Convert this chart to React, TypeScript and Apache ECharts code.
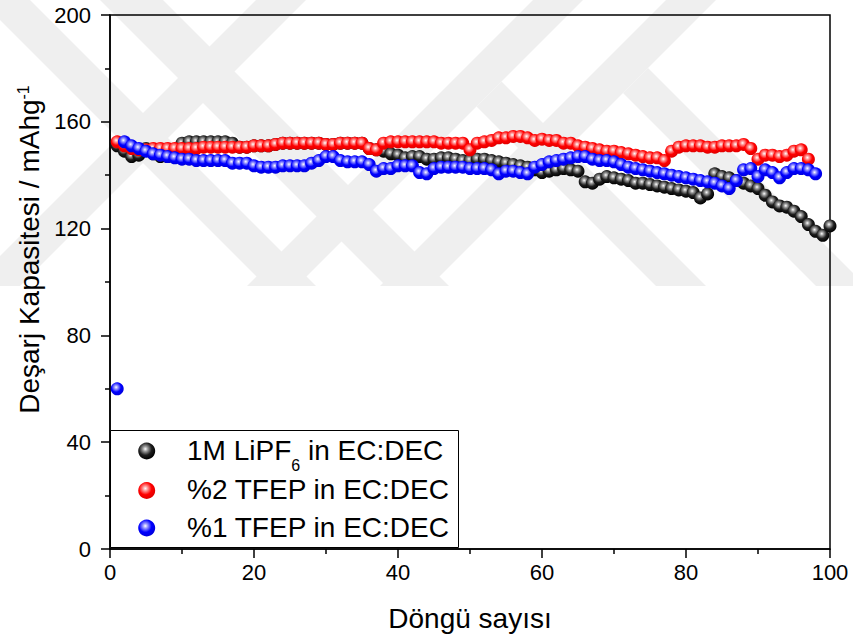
import React, { useEffect, useRef } from "react";
import * as echarts from "echarts";

// ---- Data ----
const blackCapacity: number[] = [
  151, 149, 147, 147.5, 150, 148, 147, 147, 149, 152,
  152.5, 152.5, 152.5, 152.5, 152.5, 152.5, 152, 150.5, 150.5, 151,
  151, 151, 151.5, 152, 152, 152, 152, 152, 152, 151.5,
  151.5, 152, 152, 152, 152, 150, 149.5, 149, 148, 147.5,
  146.5, 147, 147, 146, 146, 146.5, 146.5, 146, 145.5, 145.5,
  146, 146, 145.5, 145, 144.5, 144, 143.5, 143, 142, 141,
  141.5, 142, 142.5, 142, 141.5, 137.5, 137, 138.5, 139.5, 139,
  138.5, 138, 137, 137, 136.5, 136, 135.5, 135, 134.5, 134,
  133.5, 131.5, 133, 140.5, 139.5, 139, 138, 137, 136, 135,
  132.5, 130, 128.5, 128, 126.5, 124.5, 121.5, 119, 117.5, 121,
];

const redCapacity: number[] = [
  152.5, 151, 150, 149.5, 149.5, 150, 150, 150, 150, 150,
  150, 150, 150.5, 150.5, 150.5, 150.5, 150.5, 150.5, 150.5, 151,
  151, 151, 151.5, 152, 152, 152, 152, 152, 152, 151.5,
  151.5, 152, 152, 152, 152, 150, 149.5, 152, 152.5, 152.5,
  152.5, 152.5, 152.5, 152.5, 152.5, 152, 152, 152, 152, 149.5,
  152, 152.5, 153, 154, 154, 154.5, 154.5, 154, 153, 153.5,
  153, 153, 152, 152, 151, 150.5, 150, 149.5, 149, 149,
  148.5, 148, 147.5, 147, 146.5, 146.5, 145.5, 149, 150.5, 151,
  151, 151, 150.5, 150.5, 151, 151, 151, 151.5, 150, 146,
  147.5, 147.5, 147, 147.5, 149, 149.5, 146,
];

const blueCapacity: number[] = [
  60,
  152.5, 151, 150, 149, 148, 147.5, 147, 146.5, 146, 146,
  145.5, 145.5, 145.5, 145.5, 145.5, 144.5, 144.5, 144.5, 143.5, 143,
  143, 143, 143.5, 143.5, 143.5, 143.5, 144.5, 145.5, 147, 147,
  145.5, 145, 145, 145, 144, 141.5, 142.5, 142.5, 143.5, 143.5,
  143.5, 141, 140.5, 142.5, 143, 143, 143, 143, 142.5, 142.5,
  142.5, 142, 140.5, 141.5, 141.5, 141, 140.5, 143, 144, 145,
  145.5, 146, 146.5, 147, 147, 146, 145.5, 145.5, 145, 144,
  143, 142.5, 142, 141.5, 141, 140.5, 140, 139.5, 139, 138.5,
  138, 137.5, 137, 136, 135, 138, 142, 142.5, 139.5, 142,
  141, 139, 141, 142.5, 142.5, 142, 140.5,
];

const seriesNames: string[] = [
  "1M LiPF6 in EC:DEC",
  "%2 TFEP in EC:DEC",
  "%1 TFEP in EC:DEC",
];

// legend label pieces: [before subscript, subscript, after subscript]
const legendParts: string[][] = [
  ["1M LiPF", "6", " in EC:DEC"],
  ["%2 TFEP in EC:DEC", "", ""],
  ["%1 TFEP in EC:DEC", "", ""],
];

const xTicks = { min: 0, max: 100, interval: 20 };
const yTicks = { min: 0, max: 200, interval: 40 };

// ---- styling helpers ----
const FONT = "Arial, 'Liberation Sans', sans-serif";

function sphere(light: string, mid: string, dark: string) {
  return {
    type: "radial",
    x: 0.42,
    y: 0.38,
    r: 0.62,
    colorStops: [
      { offset: 0, color: "#ffffff" },
      { offset: 0.22, color: light },
      { offset: 0.6, color: mid },
      { offset: 1, color: dark },
    ],
  } as any;
}

const sphereColors = [
  sphere("#a0a0a0", "#1e1e1e", "#000000"),
  sphere("#ff9a9a", "#ff0000", "#e00000"),
  sphere("#9a9aff", "#0000ff", "#0000dd"),
];

// decorative watermark bands (light grey)
const watermark: number[][][] = [
  [[256, 0], [306, 0], [20, 286], [-30, 286]],
  [[-20, 0], [30, 0], [316, 286], [266, 286]],
  [[100, 0], [163, 0], [449, 286], [386, 286]],
  [[533, 0], [583, 0], [297, 286], [247, 286]],
  [[666, 0], [716, 0], [430, 286], [380, 286]],
  [[501.5, 81.5], [706, 286], [656, 286], [476.5, 106.5]],
  [[648, 68], [866, 286], [816, 286], [623, 93]],
];

function measure(text: string, size: number): number {
  const ctx = document.createElement("canvas").getContext("2d");
  if (!ctx) return text.length * size * 0.55;
  ctx.font = `${size}px Arial, "Liberation Sans", sans-serif`;
  return ctx.measureText(text).width;
}

function toPairs(values: number[], start: number) {
  return values.map((v, i) => [i + start, v]);
}

function textEl(text: string, x: number, y: number, size: number) {
  return {
    type: "text",
    z: 101,
    silent: true,
    x,
    y,
    style: {
      text,
      fontFamily: FONT,
      fontSize: size,
      fill: "#000",
      align: "left",
      verticalAlign: "middle",
      textAlign: "left",
      textVerticalAlign: "middle",
    },
  };
}

function buildLegend() {
  const box = { x: 110, y: 430, w: 349, h: 118 };
  const rowY = [451, 490.5, 528];
  const iconX = 146.7;
  const textX = 187;
  const mainSize = 28;
  const subSize = 16;
  const els: any[] = [
    {
      type: "rect",
      z: 100,
      silent: true,
      shape: { x: box.x + 0.5, y: box.y + 0.5, width: box.w - 1, height: box.h - 1 },
      style: { fill: "#ffffff", stroke: "#000000", lineWidth: 1 },
    },
  ];
  legendParts.forEach((parts, i) => {
    const cy = rowY[i];
    els.push({
      type: "circle",
      z: 101,
      silent: true,
      shape: { cx: iconX, cy, r: 8.5 },
      style: { fill: sphereColors[i] },
    });
    let x = textX;
    els.push(textEl(parts[0], x, cy - 1, mainSize));
    if (parts[1]) {
      x += measure(parts[0], mainSize);
      els.push(textEl(parts[1], x, cy + 14, subSize));
      x += measure(parts[1], subSize);
      els.push(textEl(parts[2], x, cy - 1, mainSize));
    }
  });
  return els;
}

export default function App() {
  const ref = useRef<HTMLDivElement>(null);

  useEffect(() => {
    if (!ref.current) return;
    const chart = echarts.init(ref.current, null, { renderer: "svg" });

    const datasets = [
      toPairs(blackCapacity, 1),
      toPairs(redCapacity, 1),
      toPairs(blueCapacity, 1),
    ];

    const watermarkEls = watermark.map((pts) => ({
      type: "polygon",
      z: -10,
      silent: true,
      shape: { points: pts },
      style: { fill: "#efefef" },
    }));

    const option: any = {
      animation: false,
      backgroundColor: "#ffffff",
      textStyle: { fontFamily: FONT },
      graphic: [...watermarkEls, ...buildLegend()],
      grid: {
        left: 110,
        right: 23,
        top: 15,
        bottom: 92,
        show: true,
        borderColor: "#000",
        borderWidth: 1.5,
        backgroundColor: "transparent",
      },
      xAxis: {
        type: "value",
        min: xTicks.min,
        max: xTicks.max,
        interval: xTicks.interval,
        name: "Döngü sayısı",
        nameLocation: "middle",
        nameGap: 55,
        nameTextStyle: { fontFamily: FONT, fontSize: 28, color: "#000" },
        axisLine: { show: true, lineStyle: { color: "#000", width: 1.5 } },
        axisTick: {
          show: true,
          inside: false,
          length: 9,
          lineStyle: { color: "#000", width: 1.5 },
        },
        minorTick: {
          show: true,
          splitNumber: 2,
          length: 5,
          lineStyle: { color: "#000", width: 1.5 },
        },
        axisLabel: {
          fontFamily: FONT,
          fontSize: 22,
          color: "#000",
          margin: 12,
        },
        splitLine: { show: false },
      },
      yAxis: {
        type: "value",
        min: yTicks.min,
        max: yTicks.max,
        interval: yTicks.interval,
        name: "Deşarj Kapasitesi / mAhg{sup|-1}",
        nameLocation: "middle",
        nameGap: 64,
        nameRotate: 90,
        nameTextStyle: {
          fontFamily: FONT,
          fontSize: 28,
          color: "#000",
          padding: [0, 0, 0, 65],
          rich: {
            sup: {
              fontFamily: FONT,
              fontSize: 16,
              verticalAlign: "top",
              lineHeight: 16,
              color: "#000",
            },
          },
        },
        axisLine: { show: true, lineStyle: { color: "#000", width: 1.5 } },
        axisTick: {
          show: true,
          inside: false,
          length: 9,
          lineStyle: { color: "#000", width: 1.5 },
        },
        minorTick: {
          show: true,
          splitNumber: 2,
          length: 5,
          lineStyle: { color: "#000", width: 1.5 },
        },
        axisLabel: {
          fontFamily: FONT,
          fontSize: 22,
          color: "#000",
          margin: 19,
        },
        splitLine: { show: false },
      },
      series: seriesNames.map((name, i) => ({
        name,
        type: "scatter",
        data: datasets[i],
        symbol: "circle",
        symbolSize: 13,
        z: 2 + i,
        itemStyle: { color: sphereColors[i], opacity: 1 },
        emphasis: { disabled: true },
      })),
    };

    chart.setOption(option);
    return () => chart.dispose();
  }, []);

  return (
    <div
      ref={ref}
      style={{ width: 853, height: 641, position: "absolute", left: 0, top: 0 }}
    />
  );
}
